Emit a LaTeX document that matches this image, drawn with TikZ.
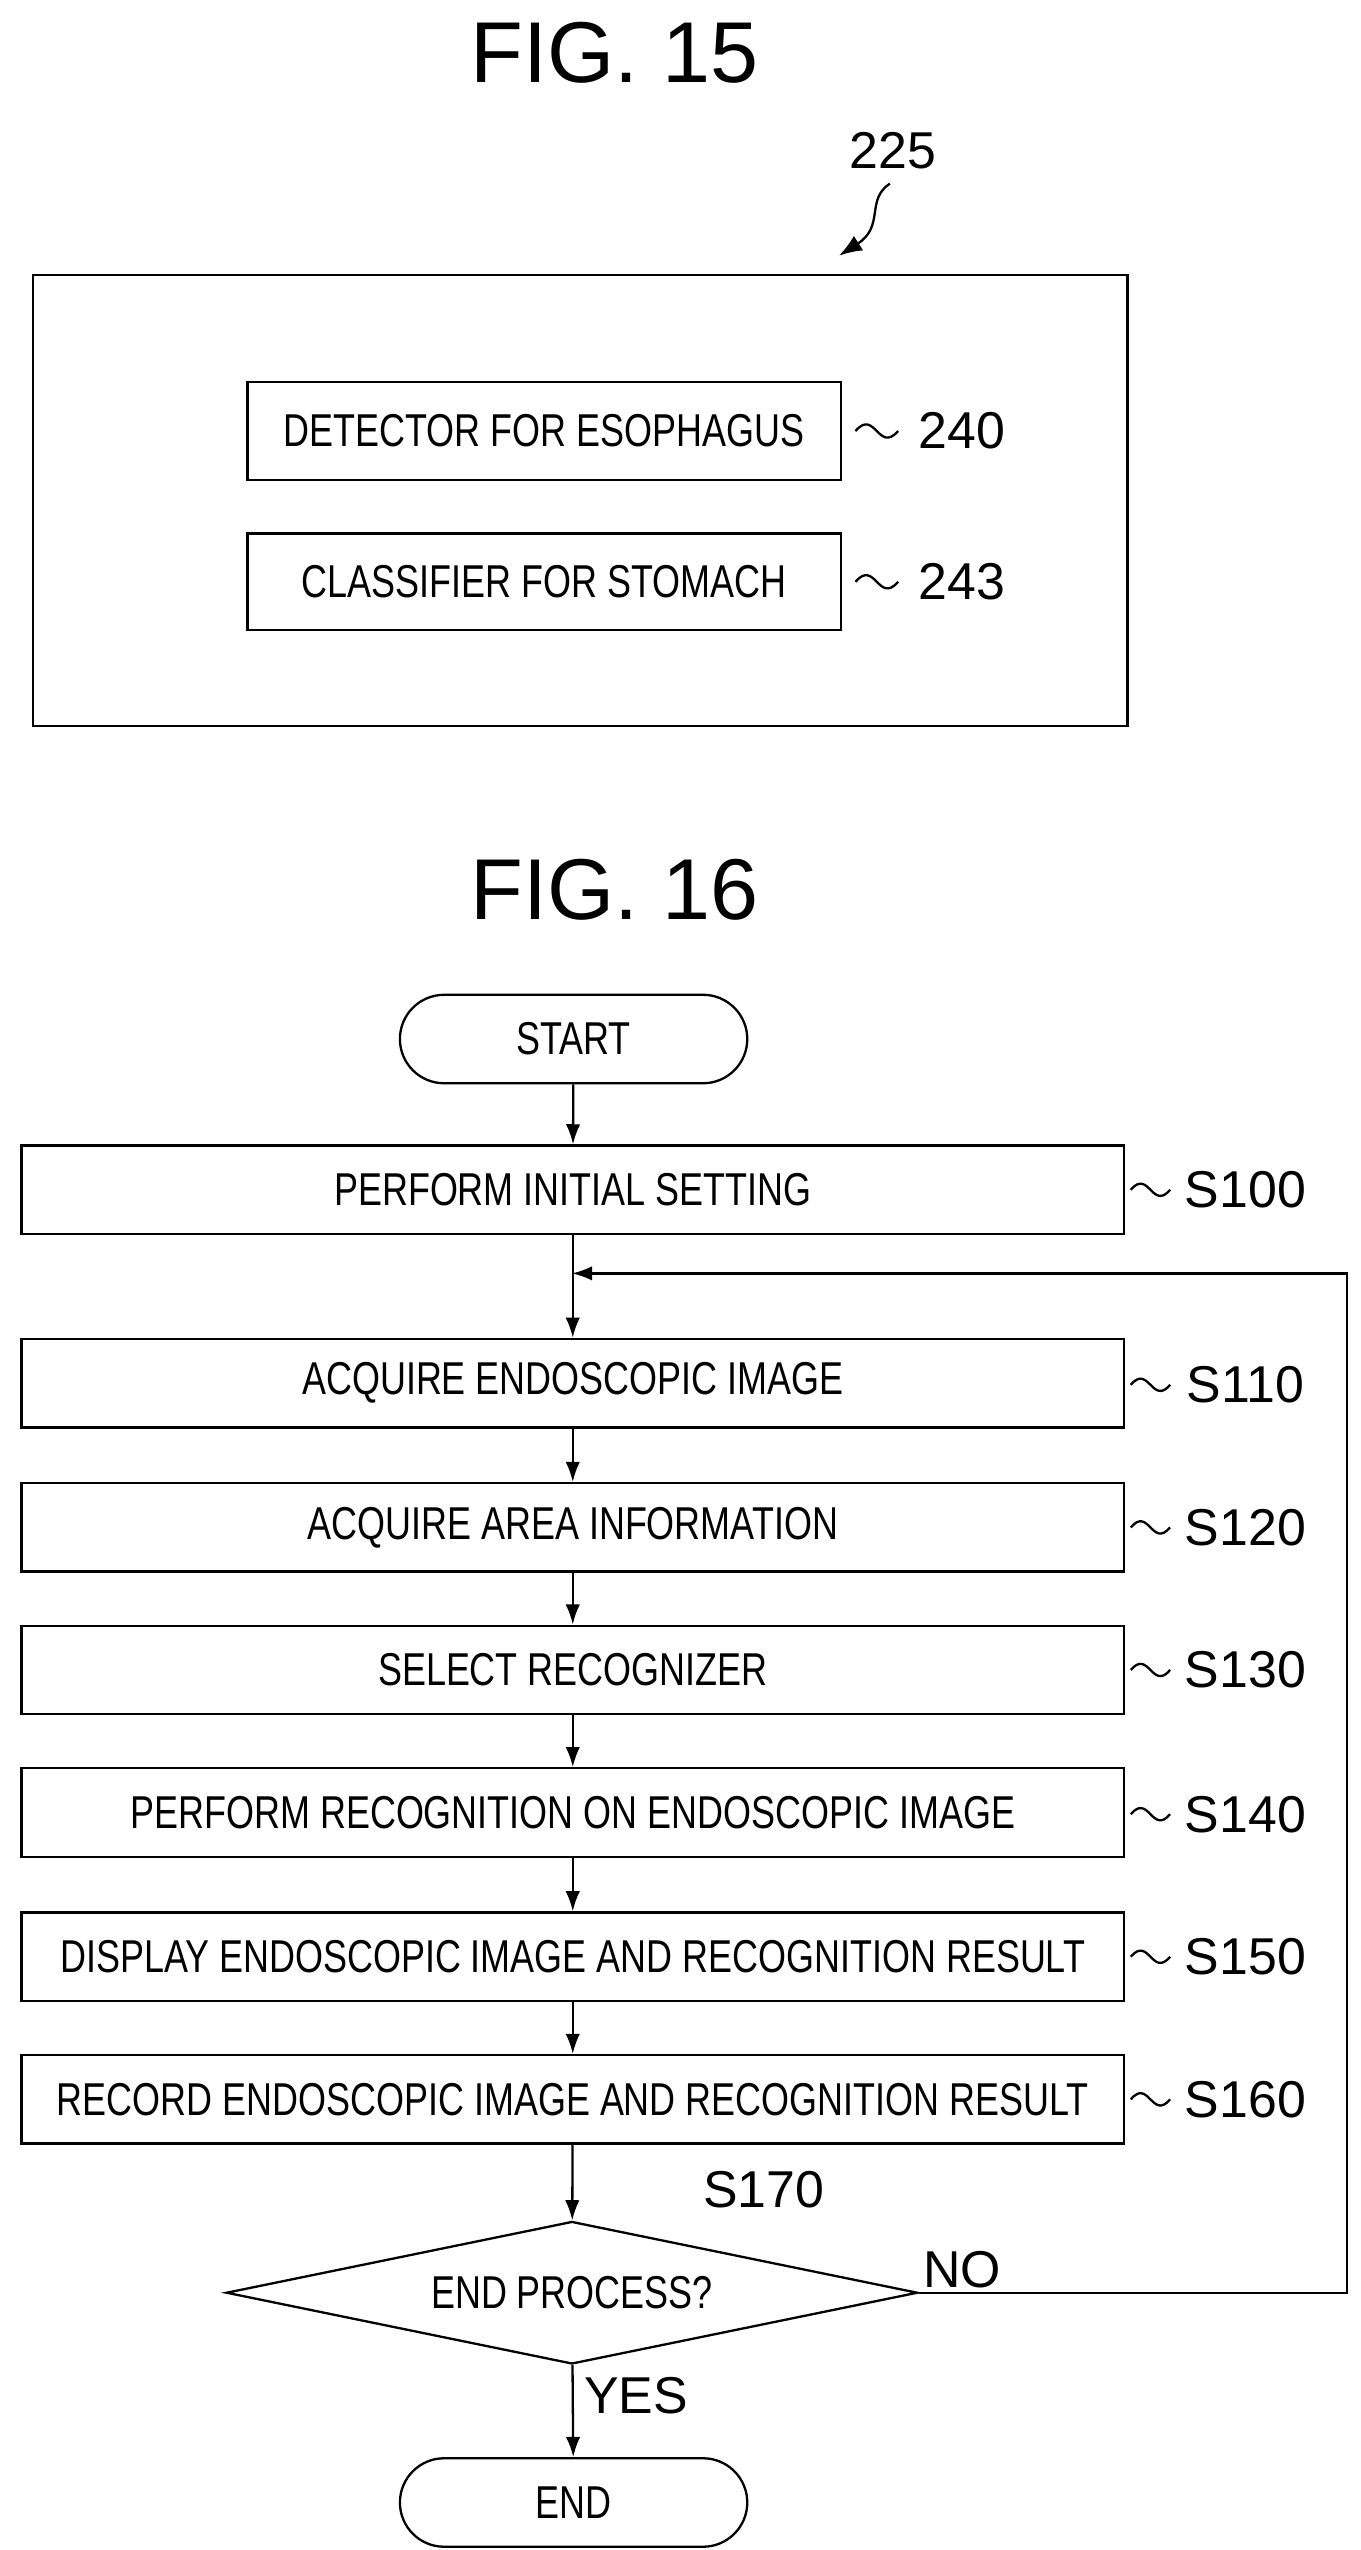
\documentclass[tikz,border=0pt]{standalone}
\usepackage{fontspec}
\setmainfont{Liberation Sans}
\newfontfamily\narrowfont[FakeStretch=0.78]{Liberation Sans}
\usetikzlibrary{arrows.meta,shapes.geometric,positioning}
\begin{document}
\begin{tikzpicture}[x=0.02cm,y=-0.02cm,
  box/.style={draw,thick,minimum height=1.08cm,font=\narrowfont\fontsize{16}{18}\selectfont,inner sep=0pt},
  stepbox/.style={box,minimum width=13.46cm},
  term/.style={box,rounded corners=0.54cm,minimum width=4.24cm},
  lbl/.style={font=\fontsize{18}{21}\selectfont},
  fig/.style={font=\fontsize{30}{34}\selectfont},
  arr/.style={-{Latex[length=7pt,width=5pt]},thick},
  sq/.style={thick}]
\useasboundingbox (0,0) rectangle (830,1556);
\newcommand{\tild}[2]{\draw[sq] (#1) .. controls +(12,-14) and +(-12,14) .. (#2);}
% FIG. 15
\node[fig] (f15) at (375,32) {FIG. 15};
\node[lbl] (n225) at (545,92) {225};
\draw[thick,-{Latex[length=8pt,width=6pt]}] (543,112) .. controls (528,122) and (540,138) .. (512,156);
\draw[thick] (20,168) rectangle (688,443);
\node[box,minimum width=7.24cm,minimum height=1.2cm] (det) at (332,263) {DETECTOR FOR ESOPHAGUS};
\node[box,minimum width=7.24cm,minimum height=1.18cm] (cls) at (332,355) {CLASSIFIER FOR STOMACH};
\node[lbl] (n240) at (587,263) {240};
\node[lbl] (n243) at (587,355) {243};
\coordinate (t1a) at (522,263); \coordinate (t1b) at (548,263);
\coordinate (t2a) at (522,355); \coordinate (t2b) at (548,355);
\tild{t1a}{t1b}
\tild{t2a}{t2b}
% FIG. 16
\node[fig] (f16) at (375,543) {FIG. 16};
\node[term] (start) at (350,634) {START};
\node[stepbox] (s100) at (349.5,726) {PERFORM INITIAL SETTING};
\node[stepbox] (s110) at (349.5,844) {ACQUIRE ENDOSCOPIC IMAGE};
\node[stepbox] (s120) at (349.5,932) {ACQUIRE AREA INFORMATION};
\node[stepbox] (s130) at (349.5,1019) {SELECT RECOGNIZER};
\node[stepbox] (s140) at (349.5,1106) {PERFORM RECOGNITION ON ENDOSCOPIC IMAGE};
\node[stepbox] (s150) at (349.5,1194) {DISPLAY ENDOSCOPIC IMAGE AND RECOGNITION RESULT};
\node[stepbox] (s160) at (349.5,1281) {RECORD ENDOSCOPIC IMAGE AND RECOGNITION RESULT};
\node[draw,thick,diamond,aspect=4.85,minimum width=8.44cm,minimum height=1.74cm,inner sep=0pt,
  font=\narrowfont\fontsize{16}{18}\selectfont] (s170) at (349,1399) {END PROCESS?};
\node[term] (end) at (350,1527) {END};
% step labels
\foreach \n/\y in {100/726,110/845,120/932,130/1019,140/1107,150/1194,160/1281}{
  \node[lbl] (l\n) at (760,\y) {S\n};
  \draw[sq] (690,\y) .. controls +(11,-13) and +(-11,13) .. (714,\y);
}
\node[lbl] (l170) at (466,1336) {S170};
\node[lbl] (no) at (587,1385) {NO};
\node[lbl] (yes) at (388,1462) {YES};
% arrows
\draw[arr] (start) -- (s100);
\draw[arr] (s100) -- (s110);
\draw[arr] (s110) -- (s120);
\draw[arr] (s120) -- (s130);
\draw[arr] (s130) -- (s140);
\draw[arr] (s140) -- (s150);
\draw[arr] (s150) -- (s160);
\draw[arr] (s160) -- (s170);
\draw[arr] (s170) -- (end);
\coordinate (join) at (349,777);
\draw[arr] (s170.east) -- (822,1399) -- (822,777) -- (join);
\end{tikzpicture}
\end{document}
